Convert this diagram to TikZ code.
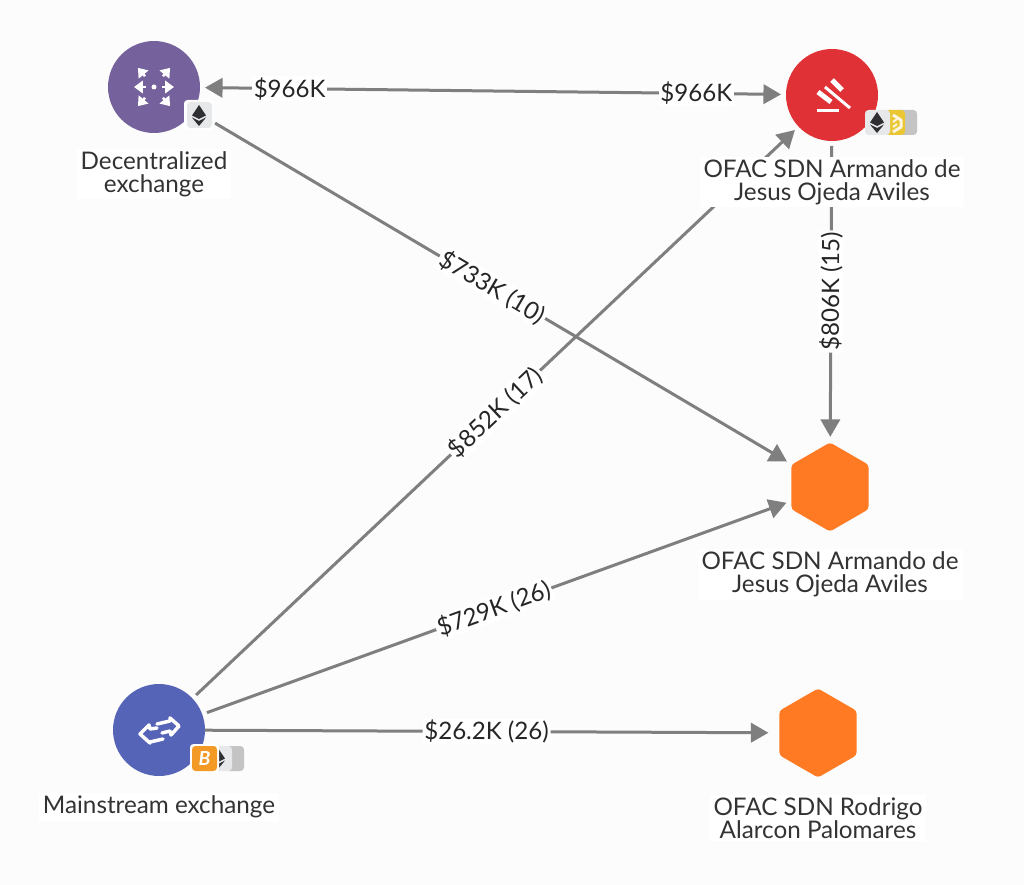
\documentclass[tikz,border=0pt]{standalone}
\usepackage{fontspec}
\setmainfont{Lato}
\usetikzlibrary{arrows.meta,shapes.geometric}

\definecolor{edgegray}{HTML}{7F7F7F}
\definecolor{dexpurple}{HTML}{75619B}
\definecolor{ofacred}{HTML}{E03236}
\definecolor{cexblue}{HTML}{5664B8}
\definecolor{hexorange}{HTML}{FF7A22}
\definecolor{btcorange}{HTML}{F39A26}
\definecolor{coinyellow}{HTML}{E9C632}
\definecolor{tilegray}{HTML}{E6E8EA}
\definecolor{backgray}{HTML}{C4C4C4}
\definecolor{ethdark}{HTML}{2E2E33}

\tikzset{
	circlenode/.style={circle, minimum size=1.84cm, inner sep=0pt, outer sep=0.1cm},
	hexnode/.style={regular polygon, regular polygon sides=6, shape border rotate=30, minimum size=1.78cm, inner sep=0pt, outer sep=0.1cm, fill=hexorange, rounded corners=0.06cm},
	namelabel/.style={fill=white, align=center, inner xsep=2pt, inner ysep=1.5pt, font=\fontsize{13.8}{13.1}\selectfont, text=black!80},
	flow/.style={draw=edgegray, line width=0.06cm, -{Triangle[length=10pt,width=11pt]}},
	flowboth/.style={flow, {Triangle[length=10pt,width=11pt]}-{Triangle[length=10pt,width=11pt]}},
	amount/.style={fill=white, inner xsep=1pt, inner ysep=0.5pt, font=\fontsize{13.7}{14}\selectfont, text=black!85},
	icon/.style={draw=white, line width=0.07cm, line cap=round, line join=round},
	iconarrow/.style={draw=white, line width=0.05cm, -{Triangle[length=5pt,width=7pt]}},
	tile/.style={rounded corners=0.07cm}
}

\begin{document}
\begin{tikzpicture}[x=0.02cm, y=-0.02cm]
	
	% Page
	\fill[white!99!black] (0,0) rectangle (1024,885);
	\useasboundingbox (0,0) rectangle (1024,885);
	
	% Nodes
	\node[circlenode, fill=dexpurple] (dex) at (154,87) {};
	\node[circlenode, fill=ofacred] (ofacred) at (832,95) {};
	\node[circlenode, fill=cexblue] (cex) at (159,730) {};
	\node[hexnode] (armando) at (830,487) {};
	\node[hexnode] (rodrigo) at (818,733) {};
	
	% Edges
	\draw[flowboth] (dex) -- (ofacred)
		node[amount, pos=0.147] {\$966K}
		node[amount, pos=0.853] {\$966K};
	\draw[flow, shorten <=0.4cm] (dex) -- (armando)
		node[amount, midway, sloped] {\$733K (10)};
	\draw[flow] (cex) -- (ofacred)
		node[amount, midway, sloped] {\$852K (17)};
	\draw[flow] (ofacred) -- (armando)
		node[amount, midway, sloped] {\$806K (15)};
	\draw[flow] (cex) -- (armando)
		node[amount, pos=0.495, sloped] {\$729K (26)};
	\draw[flow, shorten <=-0.1cm, shorten >=0.12cm] (cex) -- (rodrigo)
		node[amount, pos=0.49, sloped] {\$26.2K (26)};
	
	% Names
	\node[namelabel] (dexname) at (154,174) {Decentralized\\exchange};
	\node[namelabel] (ofacredname) at (832,182) {OFAC SDN Armando de\\Jesus Ojeda Aviles};
	\node[namelabel] (armandoname) at (830,574.5) {OFAC SDN Armando de\\Jesus Ojeda Aviles};
	\node[namelabel] (cexname) at (159,807) {Mainstream exchange};
	\node[namelabel] (rodrigoname) at (818,818) {OFAC SDN Rodrigo\\Alarcon Palomares};
	
	% Decentralized icon
	\fill[white] (154,87) circle (2.5);
	\foreach \a in {0,180}
	{
		\draw[iconarrow, shift={(154,87)}, rotate=\a] (8,0) -- (20,0);
	}
	\foreach \a in {50,130,230,310}
	{
		\draw[iconarrow, shift={(154,87)}, rotate=\a] (14,0) -- (25,0);
	}
	
	% Gavel icon
	\draw[white, line width=0.1cm] (818,92) -- (831,102);
	\draw[white, line width=0.1cm] (832,80) -- (842,90);
	\draw[white, line width=0.06cm] (825,87) -- (850,108);
	\draw[white, line width=0.07cm] (817,110.5) -- (839,110.5);
	
	% Exchange icon
	\draw[icon] (157,724) -- (170,721) -- (170,718) -- (179,726) -- (171,735) -- (170,731) -- (162,733);
	\draw[icon] (163,739) -- (150,742) -- (150,743) -- (140,734) -- (149,725) -- (150,729) -- (157,728);
	
	% Badges
	\fill[tile, white] (184,100) rectangle (214,130);
	\fill[tile, tilegray] (187,102) rectangle (212,128);
	\fill[tile, backgray] (895,110) rectangle (917,135);
	\fill[tile, coinyellow] (885,110) rectangle (905,135);
	\fill[tile, tilegray] (865,110) rectangle (890,135);
	\draw[white!85!coinyellow, line width=0.06cm, line join=round] (893,115) -- (901,120) -- (901,127) -- (893,132);
	\draw[white!85!coinyellow, line width=0.04cm] (893,122) -- (897,119) (893,127) -- (897,124);
	\fill[tile, backgray] (225,746) rectangle (244,771);
	\fill[tile, tilegray] (205,746) rectangle (232,771);
	
	% Ether marks
	\foreach \x/\y in {199/115, 877/122, 218/758}
	{
		\fill[ethdark] (\x,\y-10) -- (\x+7,\y+0.5) -- (\x,\y+4) -- (\x-7,\y+0.5) -- cycle;
		\fill[ethdark] (\x,\y+11) -- (\x+7,\y+2.5) -- (\x,\y+6) -- (\x-7,\y+2.5) -- cycle;
	}
	
	% Bitcoin badge
	\fill[tile, white] (190,744) rectangle (219,773);
	\node[tile, fill=btcorange, minimum size=0.5cm, inner sep=0pt, text=white, font=\fontsize{11}{11}\bfseries\itshape\selectfont] (btc) at (204.5,758.5) {B};
	
\end{tikzpicture}
\end{document}
